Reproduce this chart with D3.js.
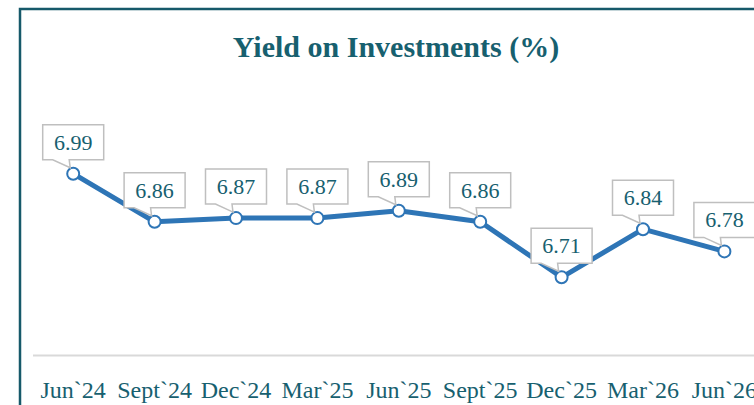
<html>
<head>
<meta charset="utf-8">
<script src="https://d3js.org/d3.v7.min.js"></script>
<style>
body { margin: 0; background: #fff; }
text { font-family: "Liberation Serif", serif; }
</style>
</head>
<body>
<script>
var categories = ["Jun`24", "Sept`24", "Dec`24", "Mar`25", "Jun`25", "Sept`25", "Dec`25", "Mar`26", "Jun`26"];
var yields = [6.99, 6.86, 6.87, 6.87, 6.89, 6.86, 6.71, 6.84, 6.78];
var labels = ["6.99", "6.86", "6.87", "6.87", "6.89", "6.86", "6.71", "6.84", "6.78"];

var W = 754, H = 405;
var teal = "#17606f", blue = "#2e75b6";

var svg = d3.select("body").append("svg")
    .attr("width", W)
    .attr("height", H);

// outer frame (runs off the right and bottom edges)
svg.append("rect")
    .attr("x", 20).attr("y", 9)
    .attr("width", 760).attr("height", 420)
    .attr("fill", "none")
    .attr("stroke", "#16596a")
    .attr("stroke-width", 2.5);

// title
svg.append("text")
    .attr("x", 396).attr("y", 57)
    .attr("text-anchor", "middle")
    .attr("font-size", 30)
    .attr("font-weight", "bold")
    .attr("fill", teal)
    .text("Yield on Investments (%)");

// scales
var x = d3.scaleBand()
    .domain(categories)
    .range([32.5, 32.5 + 9 * 81.4])
    .padding(0);

var y = d3.scaleLinear()
    .domain([6.5, 7.0])
    .range([355, 170]);

var cx = function(d, i) { return x(categories[i]) + x.bandwidth() / 2; };

// x axis
var ax = svg.append("g")
    .attr("transform", "translate(0," + y(6.5) + ")")
    .call(d3.axisBottom(x).tickSize(0).tickPadding(26));
ax.select(".domain")
    .attr("stroke", "#d9d9d9")
    .attr("stroke-width", 2);
ax.selectAll("text")
    .attr("font-family", "Liberation Serif, serif")
    .attr("font-size", 24)
    .attr("fill", teal);

// line
var line = d3.line()
    .x(function(d, i) { return cx(d, i); })
    .y(function(d) { return y(d); });

svg.append("path")
    .datum(yields)
    .attr("d", line)
    .attr("fill", "none")
    .attr("stroke", blue)
    .attr("stroke-width", 5)
    .attr("stroke-linejoin", "round");

// markers
svg.selectAll(".dot")
    .data(yields)
  .enter().append("circle")
    .attr("class", "dot")
    .attr("cx", cx)
    .attr("cy", function(d) { return y(d); })
    .attr("r", 6)
    .attr("fill", "#fff")
    .attr("stroke", blue)
    .attr("stroke-width", 2);

// callout labels
var bw = 61, bh = 35;
var call = svg.selectAll(".callout")
    .data(yields)
  .enter().append("g")
    .attr("class", "callout");

call.append("path")
    .attr("d", function(d, i) {
      var px = cx(d, i), py = y(d);
      var l = px - bw / 2, r = px + bw / 2, b = py - 14, t = b - bh;
      return "M" + l + "," + t + "L" + r + "," + t + "L" + r + "," + b +
             "L" + (px - 4) + "," + b + "L" + (px - 3) + "," + (py - 6) +
             "L" + (l + 10) + "," + b + "L" + l + "," + b + "Z";
    })
    .attr("fill", "#fff")
    .attr("stroke", "#bfbfbf")
    .attr("stroke-width", 1.5);

call.append("text")
    .attr("x", cx)
    .attr("y", function(d) { return y(d) - 14 - bh + 25; })
    .attr("text-anchor", "middle")
    .attr("font-size", 22)
    .attr("fill", teal)
    .text(function(d, i) { return labels[i]; });
</script>
</body>
</html>
